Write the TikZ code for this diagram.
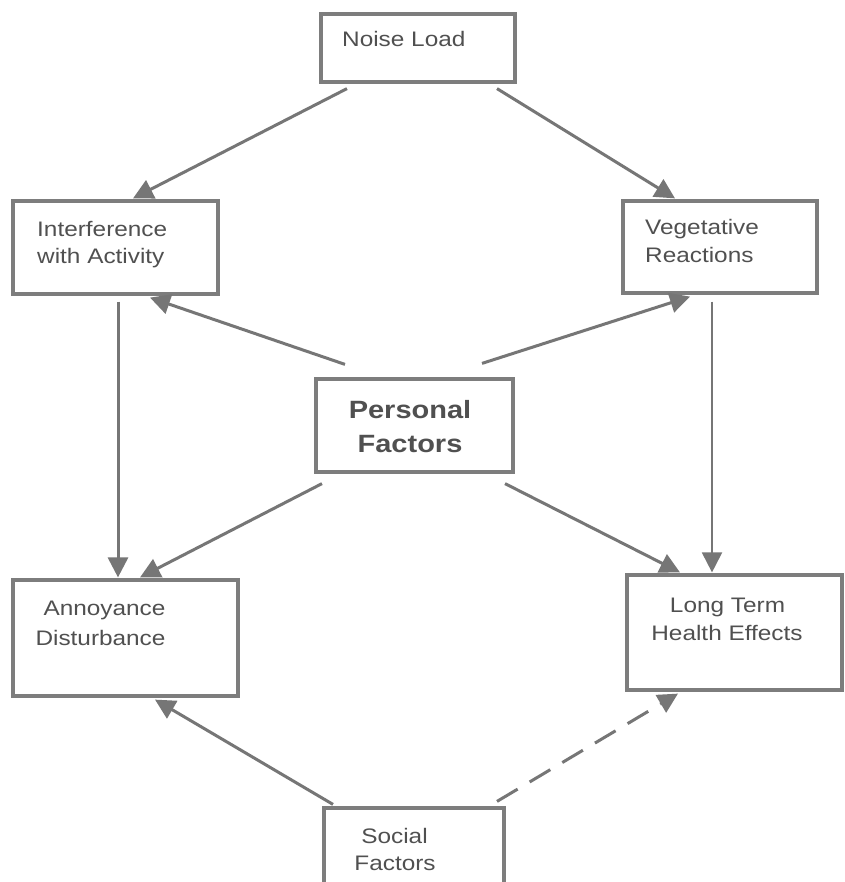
\documentclass[tikz,border=0pt]{standalone}
\usepackage{fontspec}
\setmainfont[FakeStretch=1.16]{Liberation Sans}
\usetikzlibrary{arrows.meta,calc}
\definecolor{boxgray}{RGB}{125,125,125}
\definecolor{arrgray}{RGB}{118,118,118}
\definecolor{txtgray}{RGB}{80,80,80}
\tikzset{
  box/.style={draw=boxgray, line width=3.2pt, rectangle, inner sep=0pt, fill=white},
  lbl/.style={anchor=base west, inner sep=0pt, text=txtgray, font=\fontsize{21}{26}\selectfont},
  clbl/.style={anchor=base, inner sep=0pt, text=txtgray, font=\fontsize{21}{26}\selectfont},
  blbl/.style={anchor=base, inner sep=0pt, text=txtgray, font=\fontsize{25}{34}\selectfont\bfseries},
  arr/.style={draw=arrgray, line width=3pt, -{Triangle[length=20pt,width=20pt]}},
  thinarr/.style={draw=arrgray, line width=2pt, -{Triangle[length=20pt,width=20pt]}},
}
\begin{document}
\begin{tikzpicture}[x=1pt,y=-1pt]
\clip (0,0) rectangle (844,882);
\fill[white] (0,0) rectangle (844,882);
% boxes
\node[box, minimum width=194pt, minimum height=68pt] (noise) at (418,48) {};
\node[box, minimum width=205pt, minimum height=93pt] (interf) at (115.5,247.5) {};
\node[box, minimum width=194pt, minimum height=92pt] (veg) at (720,247) {};
\node[box, minimum width=197pt, minimum height=93pt] (pers) at (414.5,425.5) {};
\node[box, minimum width=225pt, minimum height=116pt] (annoy) at (125.5,638) {};
\node[box, minimum width=215pt, minimum height=115pt] (long) at (734.5,632.5) {};
\node[box, minimum width=180pt, minimum height=84pt] (social) at (414,850) {};
% texts
\node[lbl] (tnoise) at (342,47) {Noise Load};
\node[lbl] (tint1) at (37,237) {Interference};
\node[lbl] (tint2) at (37,263) {with Activity};
\node[lbl] (tveg1) at (645,235) {Vegetative};
\node[lbl] (tveg2) at (645,262) {Reactions};
\node[blbl] (tper1) at (410,418) {Personal};
\node[blbl] (tper2) at (410,452) {Factors};
\node[clbl] (tann1) at (104.5,615) {Annoyance};
\node[clbl] (tann2) at (100.5,645) {Disturbance};
\node[clbl] (tlon1) at (727.5,612) {Long Term};
\node[clbl] (tlon2) at (727,640) {Health Effects};
\node[clbl] (tsoc1) at (394.5,843) {Social};
\node[clbl] (tsoc2) at (395,870) {Factors};
% connectors
\draw[arr] ($(noise.south)+(-71,5)$) -- ($(interf.north)+(17.5,-1)$);
\draw[arr] ($(noise.south)+(79,5)$) -- ($(veg.north)+(-45,-1)$);
\draw[arr] ($(pers.north)+(-69.5,-13)$) -- ($(interf.south)+(34.5,2)$);
\draw[arr] ($(pers.north)+(67.5,-14)$) -- ($(veg.south)+(-30,2)$);
\draw[arr] ($(interf.south)+(2.5,6)$) -- ($(annoy.north)+(-7.5,-1)$);
\draw[arr] ($(pers.south)+(-92.5,10)$) -- ($(annoy.north)+(14.5,-1)$);
\draw[arr] ($(pers.south)+(90.5,10)$) -- ($(long.north)+(-54.5,-1)$);
\draw[thinarr] ($(veg.south)+(-8,7)$) -- ($(long.north)+(-22.5,-1)$);
\draw[arr] ($(social.north)+(-81,-2)$) -- ($(annoy.south)+(29.5,2)$);
\draw[arr, dash pattern=on 24pt off 14pt] ($(social.north)+(83,-5)$) -- ($(long.south)+(-56.5,2)$);
\end{tikzpicture}
\end{document}
